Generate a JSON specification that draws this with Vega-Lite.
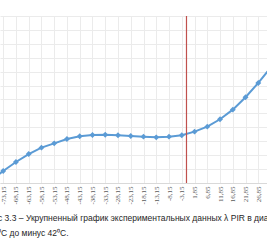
{
  "$schema": "https://vega.github.io/schema/vega-lite/v6.json",
  "width": 267,
  "height": 167,
  "autosize": {"type": "none"},
  "padding": {"left": 0, "top": 16, "right": 0, "bottom": 60},
  "background": "white",
  "config": {
    "view": {"stroke": null},
    "axisX": {"labelOverlap": false, "labelSeparation": 0, "labelBound": false, "labelFlush": false}
  },
  "title": {
    "text": ["с 3.3 – Укрупненный график экспериментальных данных λ PIR в диапазоне", "⁰С до минус 42⁰С."],
    "orient": "bottom",
    "anchor": "start",
    "frame": "group",
    "font": "Liberation Sans",
    "fontSize": 8.5,
    "fontWeight": "normal",
    "color": "#262626",
    "lineHeight": 15,
    "baseline": "top",
    "offset": 10,
    "dx": -2
  },
  "datasets": {
    "pir": [
      {"t": -78.15, "lambda": 0.01814},
      {"t": -73.15, "lambda": 0.01886},
      {"t": -68.15, "lambda": 0.01951},
      {"t": -63.15, "lambda": 0.02008},
      {"t": -58.15, "lambda": 0.02054},
      {"t": -53.15, "lambda": 0.02085},
      {"t": -48.15, "lambda": 0.02116},
      {"t": -43.15, "lambda": 0.02136},
      {"t": -38.15, "lambda": 0.02145},
      {"t": -33.15, "lambda": 0.02147},
      {"t": -28.15, "lambda": 0.02143},
      {"t": -23.15, "lambda": 0.02138},
      {"t": -18.15, "lambda": 0.02133},
      {"t": -13.15, "lambda": 0.02128},
      {"t": -8.15, "lambda": 0.02133},
      {"t": -3.15, "lambda": 0.02143},
      {"t": 1.85, "lambda": 0.02169},
      {"t": 6.85, "lambda": 0.02205},
      {"t": 11.85, "lambda": 0.02258},
      {"t": 16.85, "lambda": 0.02327},
      {"t": 21.85, "lambda": 0.02416},
      {"t": 26.85, "lambda": 0.02519},
      {"t": 31.85, "lambda": 0.02634}
    ],
    "marker": [{"t": -1.3}]
  },
  "layer": [
    {
      "data": {"name": "pir"},
      "mark": {"type": "line", "color": "#5b9bd5", "strokeWidth": 2, "clip": true},
      "encoding": {
        "x": {
          "field": "t",
          "type": "quantitative",
          "scale": {"domain": [-74.4, 30.26], "nice": false, "zero": false},
          "axis": {
            "title": null,
            "values": [-78.15, -73.15, -68.15, -63.15, -58.15, -53.15, -48.15, -43.15, -38.15, -33.15, -28.15, -23.15, -18.15, -13.15, -8.15, -3.15, 1.85, 6.85, 11.85, 16.85, 21.85, 26.85, 31.85],
            "tickCount": 40,
            "labelExpr": "replace(toString(datum.value), '.', ',')",
            "labelAngle": -90,
            "labelFont": "Liberation Serif",
            "labelFontSize": 7,
            "labelColor": "#595959",
            "labelPadding": 3,
            "labelOverlap": false,
            "ticks": false,
            "domain": true,
            "domainColor": "#d9d9d9",
            "grid": true,
            "gridColor": "#ebebeb",
            "gridWidth": 1
          }
        },
        "y": {
          "field": "lambda",
          "type": "quantitative",
          "scale": {"domain": [0.018, 0.030], "nice": false, "zero": false},
          "axis": {
            "title": null,
            "labels": false,
            "ticks": false,
            "domain": false,
            "values": [0.018, 0.019, 0.020, 0.021, 0.022, 0.023, 0.024, 0.025, 0.026, 0.027, 0.028, 0.029, 0.030],
            "tickCount": 40,
            "grid": true,
            "gridColor": "#ebebeb",
            "gridWidth": 1
          }
        }
      }
    },
    {
      "data": {"name": "pir"},
      "mark": {"type": "point", "shape": "diamond", "filled": true, "size": 35, "color": "#5b9bd5", "opacity": 1, "clip": true},
      "encoding": {
        "x": {"field": "t", "type": "quantitative"},
        "y": {"field": "lambda", "type": "quantitative"}
      }
    },
    {
      "data": {"name": "marker"},
      "mark": {"type": "rule", "color": "#c0504d", "strokeWidth": 1.2},
      "encoding": {
        "x": {"field": "t", "type": "quantitative"}
      }
    }
  ]
}
